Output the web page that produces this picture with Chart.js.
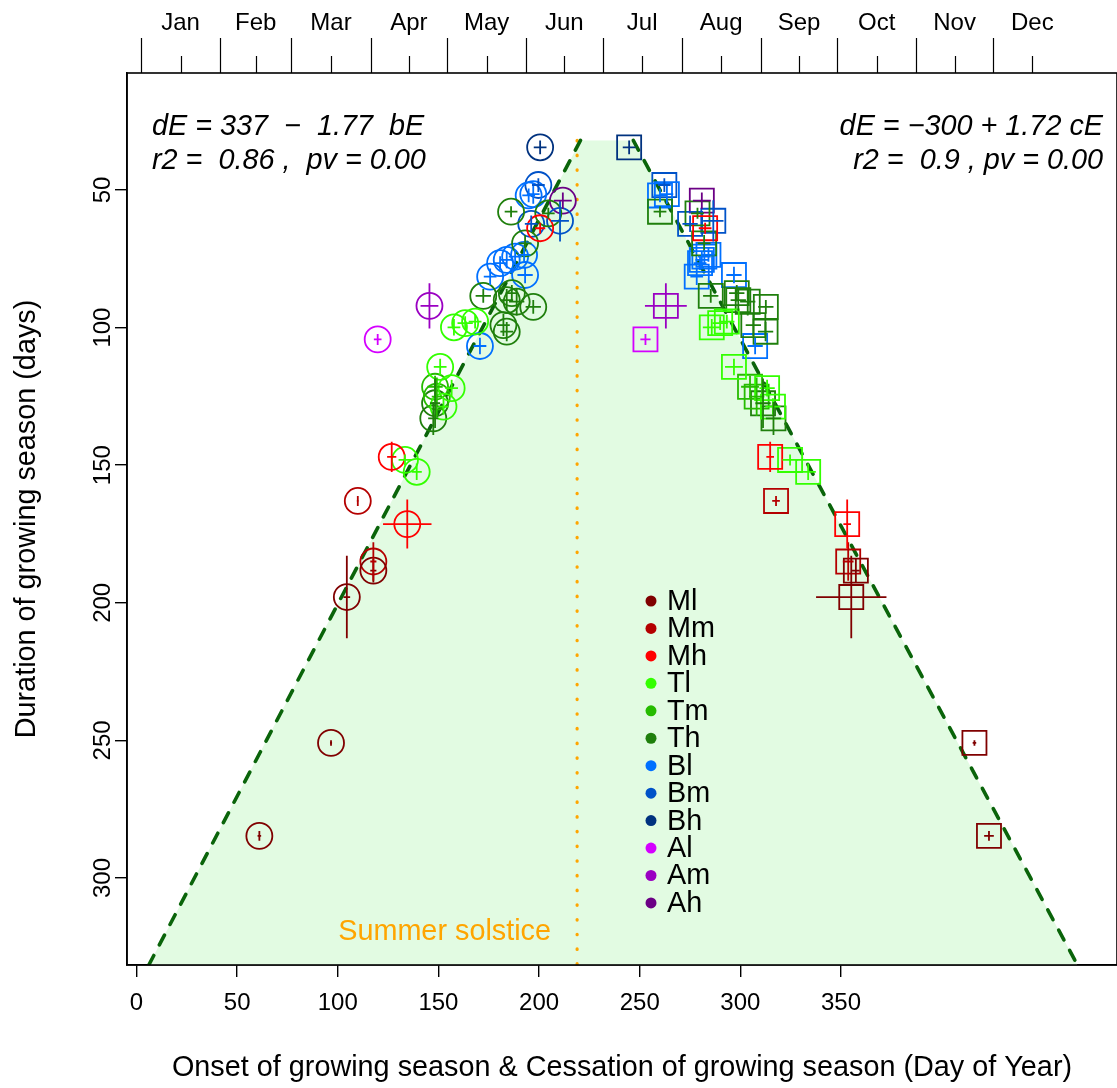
<!DOCTYPE html>
<html>
<head>
<meta charset="utf-8">
<script src="https://cdn.jsdelivr.net/npm/chart.js@4.4.0/dist/chart.umd.min.js"></script>
<style>
  html, body { margin: 0; padding: 0; background: #fff; overflow: hidden; }
  #wrap { width: 1117px; height: 1088px; position: relative; }
  #growChart { display: block; }
</style>
</head>
<body>
<div id="wrap"><canvas id="growChart"></canvas></div>
<script>
// groups (legend order) and their colours
const groupNames = ['Ml', 'Mm', 'Mh', 'Tl', 'Tm', 'Th', 'Bl', 'Bm', 'Bh', 'Al', 'Am', 'Ah'];
const groupColors = ['#800000', '#b40000', '#ff0000', '#33ff00', '#26bb00', '#1f7f0c',
                     '#0070ff', '#0052c8', '#00327f', '#d400ff', '#9a00c2', '#6b0085'];

// one entry per site: group index, onset (bE), cessation (cE), duration (dE) and their errors
const siteGroup    = [0, 0, 0, 0, 1, 1, 2, 2, 2, 3, 3, 3, 3, 3, 3, 3, 3, 4, 4,
                      5, 5, 5, 5, 5, 5, 5, 5, 5, 5, 5, 5, 6, 6, 6, 6, 6, 6, 6, 6, 6,
                      7, 7, 7, 8, 9, 10, 11];
const onsetDay     = [46.4, 74.5, 80.7, 91.1, 91.1, 85.0, 98.3, 104.4, 156.5,
                      117.3, 103.5, 108.1, 121.8, 118.6, 122.7, 127.1, 131.0, 115.3, 116.0,
                      114.6, 115.3, 134.2, 142.1, 143.4, 143.4, 147.3, 145.4, 153.8, 145.1, 159.7, 150.6,
                      152.0, 153.8, 150.2, 143.4, 140.8, 146.7, 136.9, 150.6, 132.9,
                      155.8, 164.3, 153.0, 156.5, 92.8, 113.1, 165.4];
const cessationDay = [332.5, 326.8, 278.5, 280.3, 277.3, 249.0, 246.7, 276.9, 221.2,
                      232.5, 254.5, 261.6, 245.5, 247.8, 223.8, 227.1, 229.7, 238.8, 241.4,
                      248.0, 243.9, 223.4, 240.1, 244.9, 234.2, 237.9, 233.6, 245.0, 203.5, 218.2, 220.8,
                      203.5, 206.2, 222.5, 219.9, 219.2, 220.9, 217.9, 232.5, 240.8,
                      205.2, 224.4, 215.3, 191.4, 197.8, 205.8, 219.9];
const duration     = [284.7, 250.9, 197.9, 188.3, 185.0, 163.0, 147.0, 171.4, 63.9,
                      114.3, 148.1, 152.4, 122.0, 128.7, 99.9, 98.4, 97.8, 121.5, 125.1,
                      133.0, 127.5, 88.5, 99.1, 101.5, 90.0, 90.6, 87.5, 92.5, 57.9, 58.5, 69.4,
                      52.0, 51.5, 73.6, 75.4, 76.6, 74.2, 81.5, 80.9, 106.7,
                      48.2, 61.2, 62.3, 34.5, 104.3, 92.1, 53.9];
const onsetErr     = [0.7, 0.4, 1.3, 1.2, 1.2, 0.4, 1.8, 9.5, 2.0,
                      2.5, 2.5, 2.0, 2.5, 2.0, 2.5, 3.0, 2.5, 3.0, 2.0,
                      2.0, 2.0, 3.0, 2.5, 2.5, 2.5, 3.0, 2.5, 3.0, 2.5, 2.5, 2.5,
                      2.5, 2.5, 2.5, 2.5, 2.5, 2.5, 2.5, 3.0, 2.5,
                      2.5, 3.5, 2.5, 2.5, 1.5, 3.5, 3.5];
const cessationErr = [1.9, 0.7, 13.8, 1.5, 2.1, 1.5, 1.5, 1.5, 2.5,
                      3.5, 3.0, 3.0, 3.0, 3.0, 3.5, 3.0, 3.0, 3.5, 3.0,
                      3.0, 3.0, 3.0, 3.0, 3.0, 3.0, 3.0, 3.0, 3.0, 2.5, 2.5, 2.5,
                      2.5, 2.5, 2.5, 2.5, 2.5, 2.5, 2.5, 3.0, 3.0,
                      2.5, 4.0, 3.0, 2.5, 2.0, 8.2, 3.5];
const durationErr  = [1.8, 1.0, 15.0, 4.3, 7.0, 1.8, 5.5, 8.9, 2.0,
                      3.0, 2.0, 3.0, 3.0, 3.0, 3.0, 2.5, 2.5, 4.0, 7.0,
                      6.0, 9.0, 2.5, 4.0, 3.5, 4.0, 5.0, 3.0, 2.5, 2.0, 2.0, 3.0,
                      2.5, 3.5, 2.5, 3.0, 2.5, 2.5, 3.0, 3.0, 3.0,
                      2.5, 7.5, 3.0, 2.5, 2.0, 8.2, 3.0];

// regression lines: dE = a + b * day
const onsetFit = [337, -1.77];
const cessationFit = [-300, 1.72];
const envelopeTop = 32;      // duration where the shaded envelope is cut
const solsticeDay = 171;

// axis ticks
const dayTicks = [0, 50, 100, 150, 200, 250, 300, 350];
const durationTicks = [50, 100, 150, 200, 250, 300];
const monthNames = ['Jan', 'Feb', 'Mar', 'Apr', 'May', 'Jun', 'Jul', 'Aug', 'Sep', 'Oct', 'Nov', 'Dec'];
const monthStart = [0, 31, 59, 90, 120, 151, 181, 212, 243, 273, 304, 334];
const monthMid = [15.5, 45, 74.5, 105, 135.5, 166, 196.5, 227.5, 258, 288.5, 319, 349.5];

const FONT = "'Liberation Sans', Arial, Helvetica, sans-serif";
Chart.defaults.font.family = FONT;
Chart.defaults.color = '#000';

const yMin = 7.5, yMax = 331.6;
function fitDay(fit, d) { return (d - fit[0]) / fit[1]; }

const datasets = [];
// shaded envelope between the two fitted lines
datasets.push({
    label: 'envelope',
    data: [
        { x: fitDay(onsetFit, yMax), y: yMax },
        { x: fitDay(onsetFit, envelopeTop), y: envelopeTop },
        { x: fitDay(cessationFit, envelopeTop), y: envelopeTop },
        { x: fitDay(cessationFit, yMax), y: yMax }
    ],
    showLine: true, pointRadius: 0,
    borderColor: 'rgba(0,0,0,0)', borderWidth: 1,
    backgroundColor: '#e2fbe2',
    fill: { value: yMax },
    order: 10
});
datasets.push({
    label: 'solstice',
    data: [{ x: solsticeDay, y: envelopeTop }, { x: solsticeDay, y: yMax }],
    showLine: true, pointRadius: 0, fill: false,
    borderColor: '#ffa500', borderWidth: 3.2,
    borderDash: [0.5, 14.2], borderCapStyle: 'round',
    order: 9
});
[onsetFit, cessationFit].forEach(function (fit) {
    datasets.push({
        label: 'fit',
        data: [{ x: fitDay(fit, envelopeTop), y: envelopeTop }, { x: fitDay(fit, yMax), y: yMax }],
        showLine: true, pointRadius: 0, fill: false,
        borderColor: '#0a640a', borderWidth: 3.6,
        borderDash: [11, 12], borderCapStyle: 'round',
        order: 8
    });
});

// onset circles and cessation squares for every group
groupNames.forEach(function (name, g) {
    const onsetPts = [], cessPts = [];
    siteGroup.forEach(function (sg, i) {
        if (sg !== g) return;
        onsetPts.push({ x: onsetDay[i], y: duration[i], ex: onsetErr[i], ey: durationErr[i] });
        cessPts.push({ x: cessationDay[i], y: duration[i], ex: cessationErr[i], ey: durationErr[i] });
    });
    datasets.push({
        label: name + ' onset', data: onsetPts, withErrors: true,
        pointStyle: 'circle', pointRadius: 13,
        borderColor: groupColors[g], pointBorderColor: groupColors[g],
        backgroundColor: 'rgba(0,0,0,0)', pointBackgroundColor: 'rgba(0,0,0,0)',
        pointBorderWidth: 1.8, order: 0
    });
    datasets.push({
        label: name + ' cessation', data: cessPts, withErrors: true,
        pointStyle: 'rect', pointRadius: 17,
        borderColor: groupColors[g], pointBorderColor: groupColors[g],
        backgroundColor: 'rgba(0,0,0,0)', pointBackgroundColor: 'rgba(0,0,0,0)',
        pointBorderWidth: 1.8, order: 0
    });
});

// crosshair error bars
const errorBarPlugin = {
    id: 'errorBars',
    afterDatasetsDraw(chart) {
        const { ctx } = chart;
        const xs = chart.scales.x, ys = chart.scales.y;
        chart.data.datasets.forEach(function (ds) {
            if (!ds.withErrors) return;
            ctx.save();
            ctx.strokeStyle = ds.borderColor;
            ctx.lineWidth = 1.8;
            ds.data.forEach(function (p) {
                const px = xs.getPixelForValue(p.x), py = ys.getPixelForValue(p.y);
                ctx.beginPath();
                ctx.moveTo(xs.getPixelForValue(p.x - p.ex), py);
                ctx.lineTo(xs.getPixelForValue(p.x + p.ex), py);
                ctx.moveTo(px, ys.getPixelForValue(p.y - p.ey));
                ctx.lineTo(px, ys.getPixelForValue(p.y + p.ey));
                ctx.stroke();
            });
            ctx.restore();
        });
    }
};

// box, month axis, rotated y labels, equations, legend
const decorPlugin = {
    id: 'decor',
    afterDraw(chart) {
        const { ctx, chartArea: a } = chart;
        const xs = chart.scales.x, ys = chart.scales.y;
        ctx.save();
        ctx.strokeStyle = '#000';
        ctx.lineWidth = 1.6;
        ctx.strokeRect(a.left, a.top, a.right - a.left, a.bottom - a.top);

        // top month axis
        ctx.lineWidth = 1.2;
        ctx.beginPath();
        monthStart.forEach(function (d) {
            const px = Math.round(xs.getPixelForValue(d)) + 0.5;
            ctx.moveTo(px, a.top); ctx.lineTo(px, a.top - 35);
        });
        monthMid.forEach(function (d) {
            const px = Math.round(xs.getPixelForValue(d)) + 0.5;
            ctx.moveTo(px, a.top); ctx.lineTo(px, a.top - 17);
        });
        ctx.stroke();
        ctx.fillStyle = '#000';
        ctx.font = '24px ' + FONT;
        ctx.textAlign = 'center';
        ctx.textBaseline = 'middle';
        monthMid.forEach(function (d, i) {
            ctx.fillText(monthNames[i], xs.getPixelForValue(d), 23);
        });

        // y tick labels, rotated as in R
        ys.ticks.forEach(function (t) {
            ctx.save();
            ctx.translate(103, ys.getPixelForValue(t.value));
            ctx.rotate(-Math.PI / 2);
            ctx.fillText(String(t.value), 0, 0);
            ctx.restore();
        });

        // regression equations
        ctx.font = 'italic 28.8px ' + FONT;
        ctx.textAlign = 'left';
        ctx.fillText('dE = 337  \u2212  1.77  bE', 152, 127);
        ctx.fillText('r2 =  0.86 ,  pv = 0.00', 152, 161);
        ctx.textAlign = 'right';
        ctx.fillText('dE = \u2212300 + 1.72 cE', 1103, 127);
        ctx.fillText('r2 =  0.9 , pv = 0.00', 1103, 161);

        // solstice label
        ctx.fillStyle = '#ffa500';
        ctx.font = '28.8px ' + FONT;
        ctx.fillText('Summer solstice', 551, 932);

        // legend
        ctx.textAlign = 'left';
        ctx.font = '28.8px ' + FONT;
        groupNames.forEach(function (name, g) {
            const ly = 601 + g * 27.45;
            ctx.fillStyle = groupColors[g];
            ctx.beginPath();
            ctx.arc(651, ly, 5.5, 0, Math.PI * 2);
            ctx.fill();
            ctx.fillStyle = '#000';
            ctx.fillText(name, 667, ly + 1);
        });
        ctx.restore();
    }
};

new Chart(document.getElementById('growChart'), {
    type: 'scatter',
    data: { datasets: datasets },
    options: {
        responsive: true,
        maintainAspectRatio: false,
        animation: false,
        layout: { autoPadding: false, padding: { top: 73, left: 0, right: 0, bottom: 0 } },
        plugins: { legend: { display: false }, tooltip: { enabled: false } },
        scales: {
            x: { type: 'linear', display: false, min: -5.5, max: 382.7 },
            xb: {
                type: 'linear', position: 'bottom', min: -4.72, max: 487.1,
                afterBuildTicks: function (scale) { scale.ticks = dayTicks.map(v => ({ value: v })); },
                afterFit: function (scale) {
                    scale.height = 123;
                    scale.paddingLeft = 0;
                    scale.paddingRight = 0;
                },
                grid: { drawOnChartArea: false, color: '#000', lineWidth: 1.4, tickLength: 12 },
                border: { display: true, color: '#000', width: 1.6 },
                ticks: { font: { size: 24 }, padding: 12, maxRotation: 0, autoSkip: false },
                title: {
                    display: true,
                    text: 'Onset of growing season & Cessation of growing season (Day of Year)',
                    font: { size: 28.8 }, padding: { top: 0, bottom: 3 }
                }
            },
            y: {
                type: 'linear', position: 'left', reverse: true, min: yMin, max: yMax,
                afterBuildTicks: function (scale) { scale.ticks = durationTicks.map(v => ({ value: v })); },
                afterFit: function (scale) { scale.width = 127; },
                grid: { drawOnChartArea: false, color: '#000', lineWidth: 1.4, tickLength: 12 },
                border: { display: true, color: '#000', width: 1.6 },
                ticks: { display: false },
                title: {
                    display: true, text: 'Duration of growing season (days)',
                    font: { size: 28.8 }, padding: { top: 10, bottom: 0 }
                }
            }
        }
    },
    plugins: [errorBarPlugin, decorPlugin]
});
</script>
</body>
</html>
